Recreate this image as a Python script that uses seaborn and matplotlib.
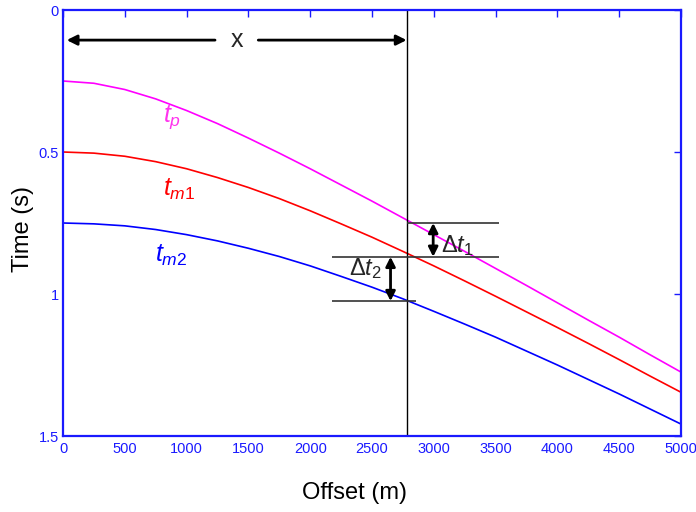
import matplotlib
matplotlib.use("Agg")
import matplotlib.pyplot as plt
import seaborn as sns
import pandas as pd

# ---- data ----
offset = [0, 250, 500, 750, 1000, 1250, 1500, 1750, 2000, 2250, 2500,
          2750, 3000, 3250, 3500, 3750, 4000, 4250, 4500, 4750, 5000]
t_p = [0.250, 0.258, 0.280, 0.313, 0.354, 0.400, 0.451, 0.504, 0.559, 0.616, 0.673,
       0.732, 0.791, 0.850, 0.910, 0.970, 1.031, 1.092, 1.152, 1.214, 1.275]
t_m1 = [0.500, 0.504, 0.515, 0.534, 0.559, 0.590, 0.625, 0.664, 0.707, 0.753, 0.800,
        0.850, 0.901, 0.954, 1.008, 1.063, 1.118, 1.174, 1.231, 1.289, 1.346]
t_m2 = [0.750, 0.753, 0.760, 0.773, 0.791, 0.813, 0.839, 0.868, 0.901, 0.938, 0.976,
        1.017, 1.061, 1.106, 1.152, 1.201, 1.250, 1.301, 1.352, 1.405, 1.458]
series_names = ["tp", "tm1", "tm2"]
series_colors = ["#FF00FF", "#FF0000", "#0000FF"]

x_offset = 2780          # receiver offset (vertical line)
dt_levels = [0.750, 0.869, 1.025]

xticks = [0, 500, 1000, 1500, 2000, 2500, 3000, 3500, 4000, 4500, 5000]
yticks = [0, 0.5, 1, 1.5]
ytick_labels = ["0", "0.5", "1", "1.5"]

df = pd.DataFrame({
    "Offset": offset * 3,
    "Time": t_p + t_m1 + t_m2,
    "Series": sum([[n] * len(offset) for n in series_names], []),
})

sns.set_style("white")
plt.rcParams["font.family"] = ["Liberation Sans", "DejaVu Sans"]
plt.rcParams["mathtext.fontset"] = "custom"
plt.rcParams["mathtext.rm"] = "Liberation Sans"
plt.rcParams["mathtext.it"] = "Liberation Sans:italic"
plt.rcParams["mathtext.bf"] = "Liberation Sans:bold"

fig = plt.figure(figsize=(6.96, 5.12), dpi=100)
ax = fig.add_axes([63 / 696, 1 - 436 / 512, 618 / 696, 426 / 512])

sns.lineplot(data=df, x="Offset", y="Time", hue="Series",
             palette=dict(zip(series_names, series_colors)),
             linewidth=1.2, legend=False, ax=ax)

ax.set_xlim(0, 5000)
ax.set_ylim(1.5, 0)

blue = "#1a1aff"
for s in ax.spines.values():
    s.set_visible(True)
    s.set_color(blue)
    s.set_linewidth(1.6)
ax.set_xticks(xticks)
ax.set_xticklabels([str(v) for v in xticks])
ax.set_yticks(yticks)
ax.set_yticklabels(ytick_labels)
ax.minorticks_off()
ax.tick_params(which="both", direction="in", length=5, width=1.0, colors=blue,
               top=True, right=True)
ax.tick_params(axis="both", which="major", labelsize=10.5)
ax.tick_params(axis="x", pad=4)
ax.tick_params(axis="y", pad=3)
for lab in ax.get_xticklabels() + ax.get_yticklabels():
    lab.set_color(blue)

ax.set_xlabel("Offset (m)", fontsize=17, color="black")
ax.set_ylabel("Time (s)", fontsize=17, color="black")
ax.xaxis.set_label_coords(0.472, -0.108)
ax.yaxis.set_label_coords(-0.047, 0.486)

# vertical line at the offset x
ax.axvline(x_offset, color="black", lw=1.0)

# horizontal reference lines
ax.hlines(dt_levels[0], x_offset, 3530, color="#333333", lw=1.2)
ax.hlines(dt_levels[1], 2180, 3530, color="#333333", lw=1.2)
ax.hlines(dt_levels[2], 2180, 2860, color="#333333", lw=1.2)

# delta-t arrows
ap2 = dict(arrowstyle="<|-|>", color="black", lw=2, mutation_scale=14,
           shrinkA=0, shrinkB=0)
ax.annotate("", xy=(2995, dt_levels[0]), xytext=(2995, dt_levels[1]), arrowprops=ap2)
ax.annotate("", xy=(2650, dt_levels[1]), xytext=(2650, dt_levels[2]), arrowprops=ap2)
ax.text(3055, 0.852, r"$\Delta t_1$", fontsize=17, ha="left", va="baseline")
ax.text(2315, 0.933, r"$\Delta t_2$", fontsize=17, ha="left", va="baseline")

# top "x" arrows
ap1 = dict(arrowstyle="-|>", color="black", lw=2, mutation_scale=15,
           shrinkA=0, shrinkB=0)
ax.annotate("", xy=(30, 0.106), xytext=(1230, 0.106), arrowprops=ap1)
ax.annotate("", xy=(x_offset, 0.106), xytext=(1580, 0.106), arrowprops=ap1)
ax.text(1410, 0.106, "x", fontsize=18, ha="center", va="center")

# curve labels
ax.text(809, 0.394, r"$t_p$", fontsize=18, color="#FF33EE", ha="left", va="baseline")
ax.text(809, 0.655, r"$t_{m1}$", fontsize=18, color="#FF0000", ha="left", va="baseline")
ax.text(744, 0.887, r"$t_{m2}$", fontsize=18, color="#0000FF", ha="left", va="baseline")

fig.savefig("out.png", dpi=100)
